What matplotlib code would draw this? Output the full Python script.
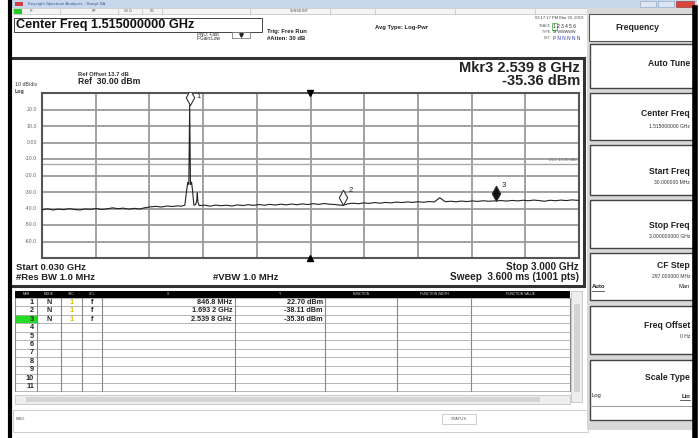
import numpy as np
import matplotlib.pyplot as plt
from matplotlib.patches import Rectangle
from matplotlib.path import Path

plt.rcParams['font.family'] = ['Liberation Sans', 'DejaVu Sans']

# ---- data ----
trace_ghz = [0.030, 0.060, 0.090, 0.120, 0.150, 0.180, 0.210, 0.240, 0.270, 0.300,
             0.330, 0.360, 0.390, 0.420, 0.450, 0.480, 0.510, 0.540, 0.570, 0.600,
             0.630, 0.660, 0.690, 0.720, 0.750, 0.780, 0.800, 0.820, 0.830, 0.836,
             0.842, 0.8468, 0.851, 0.857, 0.863, 0.870, 0.880, 0.886, 0.889, 0.892,
             0.900, 0.930, 0.960, 0.990, 1.020, 1.050, 1.080, 1.110, 1.140, 1.170,
             1.200, 1.230, 1.260, 1.290, 1.320, 1.350, 1.380, 1.410, 1.440, 1.470,
             1.500, 1.530, 1.560, 1.590, 1.620, 1.650, 1.6932, 1.720, 1.750, 1.780,
             1.810, 1.840, 1.870, 1.900, 1.930, 1.960, 1.990, 2.020, 2.050, 2.080,
             2.110, 2.140, 2.170, 2.200, 2.230, 2.260, 2.290, 2.320, 2.350, 2.380,
             2.410, 2.440, 2.470, 2.500, 2.5398, 2.570, 2.600, 2.630, 2.660, 2.690,
             2.720, 2.750, 2.780, 2.810, 2.840, 2.870, 2.900, 2.930, 2.960, 3.000]
trace_dbm = [-40.8, -40.2, -40.9, -40.4, -40.7, -40.1, -40.6, -40.9, -40.3, -40.5,
             -40.0, -40.6, -40.2, -39.6, -40.1, -39.8, -40.4, -39.9, -40.3, -39.5,
             -39.0, -38.7, -39.1, -38.5, -38.8, -38.4, -38.6, -38.0, -29.0, -24.2,
             -25.5, 22.70, -25.5, -24.0, -29.5, -38.0, -37.6, -35.0, -30.5, -36.0,
             -38.2, -38.0, -38.6, -37.9, -38.3, -38.0, -38.5, -37.8, -38.2, -37.7,
             -38.1, -37.6, -38.0, -37.5, -37.9, -37.4, -37.8, -37.3, -37.7, -37.2,
             -37.6, -37.1, -37.5, -37.0, -37.4, -37.6, -38.11, -37.2, -36.8, -37.1,
             -36.6, -36.9, -36.4, -36.8, -36.3, -36.6, -36.1, -36.4, -36.0, -36.3,
             -35.9, -36.2, -35.8, -36.0, -33.5, -35.9, -35.6, -35.9, -35.5, -35.8,
             -35.4, -35.7, -35.3, -35.6, -35.36, -35.2, -35.5, -35.1, -35.4, -35.0,
             -35.3, -34.9, -35.2, -35.6, -35.0, -35.3, -34.9, -35.2, -34.8, -35.1]

mkr_ghz = [0.8468, 1.6932, 2.5398]
mkr_dbm = [22.70, -38.11, -35.36]
mkr_mode = ["N", "N", "N"]
mkr_trc = ["1", "1", "1"]
mkr_scl = ["f", "f", "f"]
mkr_x = ["846.8 MHz", "1.693 2 GHz", "2.539 8 GHz"]
mkr_y = ["22.70 dBm", "-38.11 dBm", "-35.36 dBm"]

y_ticks = [20, 10, 0, -10, -20, -30, -40, -50, -60]
y_tick_labels = ["20.0", "10.0", "0.00", "-10.0", "-20.0", "-30.0", "-40.0", "-50.0", "-60.0"]
display_line = -13.0

table_cols = ["MKR", "MODE", "TRC", "SCL", "X", "Y", "FUNCTION", "FUNCTION WIDTH", "FUNCTION VALUE"]
softkeys = ["Auto Tune", "Center Freq", "Start Freq", "Stop Freq", "CF Step", "Freq Offset", "Scale Type"]
softkey_vals = ["", "1.515000000 GHz", "30.000000 MHz", "3.000000000 GHz", "297.000000 MHz", "0 Hz", ""]

W, H = 699, 438
fig = plt.figure(figsize=(W / 100, H / 100), dpi=100)
ui = fig.add_axes([0, 0, 1, 1])
ui.set_xlim(0, W)
ui.set_ylim(H, 0)
ui.axis('off')


def box(x0, y0, x1, y1, fc='white', ec='none', lw=0.8, z=1):
    ui.add_patch(Rectangle((x0, y0), x1 - x0, y1 - y0, fc=fc, ec=ec, lw=lw, zorder=z))


def txt(x, y, s, size=4.5, ha='left', weight='normal', color='#222222', z=5):
    ui.text(x, y, s, fontsize=size, ha=ha, va='center', fontweight=weight, color=color, zorder=z)


# window frame / title bar
box(0, 0, W, H, fc='white', z=0)
box(10, 0, 697, 8, fc='#c8d8ec')
box(15, 2, 23, 6, fc='#d04040')
txt(28, 4, "Keysight Spectrum Analyzer - Swept SA", size=3.2, color='#3a5a9a')
box(640, 1, 656, 7, fc='#dde6f2', ec='#8aa0c0', lw=0.4)
box(658, 1, 674, 7, fc='#dde6f2', ec='#8aa0c0', lw=0.4)
box(676, 1, 694, 7, fc='#d9453a', ec='#903030', lw=0.4)
ui.plot([10, 10], [0, H], color='black', lw=3, zorder=6)
ui.plot([695, 695], [8, H], color='black', lw=4, zorder=6)

# status row
box(13, 8, 588, 14, fc='#f4f4f4', ec='#b0b0b0', lw=0.4)
box(14, 9, 22, 13.5, fc='#22cc22')
for xs, s in [(30, "R"), (92, "RF"), (124, "50 \u03a9"), (150, "DC"), (290, "SENSE:INT")]:
    txt(xs, 11, s, size=2.6, color='#555555')
for xs in [60, 118, 142, 162, 250, 330, 375, 455, 535]:
    ui.plot([xs, xs], [8.5, 13.5], color='#b0b0b0', lw=0.4, zorder=2)

# header
box(14, 18, 262, 32, fc='white', ec='#444444', lw=0.7)
txt(16, 25, "Center Freq 1.515000000 GHz", size=9.2, weight='bold', color='#111111')
txt(197, 34, "PNO: Fast", size=3.3)
txt(197, 39, "IFGain:Low", size=3.3)
box(232, 32, 250, 38, fc='white', ec='#666666', lw=0.5)
ui.plot([241], [35], marker='v', ms=2.5, color='#222222', zorder=6)
txt(267, 32, "Trig: Free Run", size=4.2, weight='bold')
txt(267, 39, "#Atten: 30 dB", size=4.2, weight='bold')
txt(375, 28, "Avg Type: Log-Pwr", size=4.2, weight='bold')
txt(583, 18, "03:17:17 PM Mar 20, 2019", size=3.0, ha='right', color='#444444')
txt(551, 26, "TRACE", size=2.6, ha='right', color='#555555')
txt(551, 32, "TYPE", size=2.6, ha='right', color='#555555')
txt(551, 38, "DET", size=2.6, ha='right', color='#555555')
txt(553, 26, "1 2 3 4 5 6", size=3.4)
box(552, 22.5, 557, 29.5, fc='none', ec='#22aa22', lw=0.5)
txt(553, 32, "M WWWWW", size=2.8, color='#333333')
txt(553, 38.5, "P N N N N N", size=3.4, color='#2233aa')

# graph panel
ui.plot([12, 584], [58, 58], color='#333333', lw=2.2, zorder=4)
ui.plot([584, 584], [58, 286], color='#333333', lw=2.2, zorder=4)
ui.plot([12, 584], [286, 286], color='#333333', lw=2.2, zorder=4)
txt(78, 74, "Ref Offset 13.7 dB", size=4.2, weight='bold', color='#333333')
txt(78, 82, "Ref  30.00 dBm", size=6.2, weight='bold', color='#222222')
txt(15, 85, "10 dB/div", size=3.8, color='#333333')
txt(15, 91, "Log", size=3.8, weight='bold', color='#333333')
txt(580, 68, "Mkr3 2.539 8 GHz", size=10.5, weight='bold', ha='right', color='#222222')
txt(580, 81, "-35.36 dBm", size=10.5, weight='bold', ha='right', color='#222222')
for v, s in zip(y_ticks, y_tick_labels):
    txt(37, 93 + (30 - v) * 1.65, s, size=3.8, ha='right', color='#666666')
txt(16, 267, "Start 0.030 GHz", size=6.8, weight='bold')
txt(16, 277, "#Res BW 1.0 MHz", size=6.8, weight='bold')
txt(213, 277, "#VBW 1.0 MHz", size=6.8, weight='bold')
txt(579, 267, "Stop 3.000 GHz", size=7.2, weight='bold', ha='right')
txt(579, 277, "Sweep  3.600 ms (1001 pts)", size=7.2, weight='bold', ha='right')

# spectrum plot
ax = fig.add_axes([42 / W, 1 - 258 / H, 537 / W, 165 / H])
ax.set_xlim(0.030, 3.000)
ax.set_ylim(-70, 30)
ax.set_xticks(np.linspace(0.030, 3.000, 11))
ax.set_yticks(np.arange(-60, 30, 10))
ax.tick_params(length=0, labelbottom=False, labelleft=False)
ax.grid(True, color='#9a9a9a', lw=1.3)
for sp in ax.spines.values():
    sp.set_color('#555555')
    sp.set_linewidth(1.5)
ax.axhline(display_line, color='#a8a8a8', lw=1.0)
ax.text(2.99, display_line + 1.2, "DL1 -13.00 dBm", fontsize=2.8, ha='right', va='bottom', color='#666666')
ax.plot(trace_ghz, trace_dbm, color='#222222', lw=0.8, zorder=4)
center = (0.030 + 3.000) / 2
ax.plot([center], [30], marker='v', ms=4, color='black', clip_on=False, zorder=6)
ax.plot([center], [-70], marker='^', ms=4, color='black', clip_on=False, zorder=6)

diamond = Path([(0, 0), (0.55, 1), (0, 2), (-0.55, 1), (0, 0)],
               [Path.MOVETO, Path.LINETO, Path.LINETO, Path.LINETO, Path.CLOSEPOLY])
for i, (f, d) in enumerate(zip(mkr_ghz, mkr_dbm)):
    face = '#111111' if i == 2 else 'white'
    ax.plot([f], [d], marker=diamond, ms=22, mfc=face, mec='#333333', mew=0.8, ls='none', zorder=5)
    ax.text(f + 0.035, min(d + 9, 28), str(i + 1), fontsize=5.5, color='#222222', va='center', zorder=6)

# marker table
col_x = [15, 37, 61, 82, 102, 235, 325, 397, 471, 570]
row_h = 8.45
top = 298
box(15, 291, 570, 297.5, fc='black')
for j, name in enumerate(table_cols):
    txt((col_x[j] + col_x[j + 1]) / 2, 294.3, name, size=2.4, ha='center', color='#dddddd')
for r in range(12):
    ui.plot([15, 570], [top + r * row_h, top + r * row_h], color='#aaaaaa', lw=0.6, zorder=2)
for xc in col_x:
    ui.plot([xc, xc], [top, top + 11 * row_h], color='#888888', lw=0.8, zorder=2)
box(16, top + 2 * row_h + 0.5, 36.5, top + 3 * row_h - 0.5, fc='#22dd22')
for r in range(11):
    yc = top + (r + 0.5) * row_h
    txt(34, yc, str(r + 1), size=5.2, ha='right', weight='bold')
for r in range(len(mkr_x)):
    yc = top + (r + 0.5) * row_h
    txt(49, yc, mkr_mode[r], size=5.2, ha='center', weight='bold')
    txt(72, yc, mkr_trc[r], size=5.2, ha='center', weight='bold', color='#d8c000')
    txt(92, yc, mkr_scl[r], size=5.2, ha='center', weight='bold')
    txt(232, yc, mkr_x[r], size=5.2, ha='right', weight='bold')
    txt(323, yc, mkr_y[r], size=5.2, ha='right', weight='bold')
# scroll bars
box(571, 291, 582, 402, fc='#eeeeee', ec='#bbbbbb', lw=0.5)
box(574, 304, 580, 392, fc='#d4d4d4')
box(15, 395, 570, 404, fc='#eeeeee', ec='#bbbbbb', lw=0.5)
box(26, 397, 540, 402, fc='#d4d4d4')

# bottom status bar
box(13, 410, 588, 432, fc='white', ec='#bbbbbb', lw=0.5)
txt(16, 419, "MSG", size=3.0, color='#555555')
box(442, 414, 476, 424, fc='white', ec='#bbbbbb', lw=0.5)
txt(459, 419, "STATUS", size=3.0, ha='center', color='#555555')

# softkey panel
box(587, 8, 694, 430, fc='#d8d8d8')
box(589, 14, 693, 41, fc='white', ec='#555555', lw=0.8)
txt(637, 28, "Frequency", size=6.2, ha='center', weight='bold')
key_y = [(44, 88), (93, 140), (145, 195), (200, 248), (253, 300), (306, 354), (360, 420)]
name_y = [64, 114, 172, 225, 265, 325, 378]
val_y = [0, 127, 183, 237, 276, 336, 0]
for name, val, (y0, y1), ny, vy in zip(softkeys, softkey_vals, key_y, name_y, val_y):
    box(590, y0, 693, y1, fc='white', ec='#444444', lw=1.0)
    txt(690, ny, name, size=6.2, ha='right', weight='bold')
    if val:
        txt(690, vy, val, size=3.6, ha='right', color='#333333')
txt(592, 287, "Auto", size=4.2, weight='bold')
ui.plot([592, 604], [290.5, 290.5], color='#222222', lw=0.5, zorder=5)
txt(690, 287, "Man", size=4.2, ha='right')
txt(592, 396, "Log", size=4.2)
txt(690, 396, "Lin", size=4.2, ha='right', weight='bold')
ui.plot([680, 690], [399.5, 399.5], color='#222222', lw=0.5, zorder=5)
ui.plot([590, 693], [406, 406], color='#888888', lw=0.6, zorder=5)

fig.savefig("out.png", dpi=100)
